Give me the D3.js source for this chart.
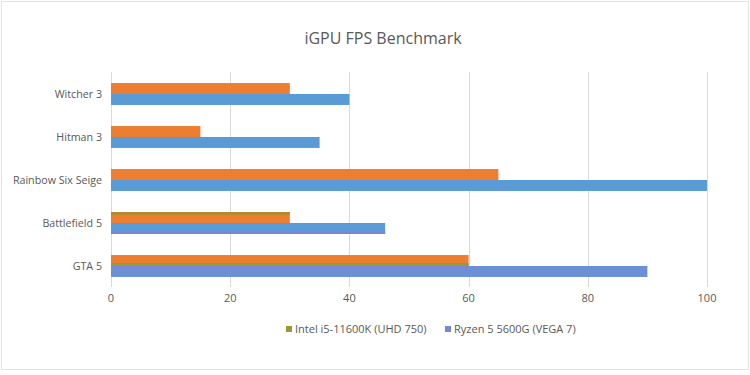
<!DOCTYPE html>
<html>
  <head>
    <script src="https://cdn.jsdelivr.net/npm/d3@7"></script>
    <style>
      body { margin: 0; background: #fff; }
      text { font-family: "Open Sans", "Noto Sans", sans-serif; fill: #595959; }
    </style>
  </head>
  <body>
    <div id="vis"></div>
    <script type="text/javascript">

        const games = ["Witcher 3", "Hitman 3", "Rainbow Six Seige", "Battlefield 5", "GTA 5"];
        const intelFps = [30, 15, 65, 30, 60];
        const ryzenFps = [40, 35, 100, 46, 90];
        const xTicks = [0, 20, 40, 60, 80, 100];
        const seriesNames = ["Intel i5-11600K (UHD 750)", "Ryzen 5 5600G (VEGA 7)"];
        const legendColors = ["#9c9a2e", "#7a86d6"];
        const barColors = ["#ed7d31", "#5b9bd5"];

        const width = 750, height = 375;

        const svg = d3.select("#vis")
            .append("svg")
            .attr("width", width)
            .attr("height", height);

        // chart frame
        svg.append("rect")
            .attr("x", 1.5).attr("y", 1.5)
            .attr("width", width - 3).attr("height", height - 7)
            .attr("fill", "#fff")
            .attr("stroke", "#e3e3e3");

        const x = d3.scaleLinear().domain([0, 100]).range([111, 707]);
        const y = d3.scaleBand()
            .domain(games)
            .range([72.5, 287.5])
            .paddingInner(0.49)
            .paddingOuter(0.245);
        const half = y.bandwidth() / 2;

        // gridlines
        svg.append("g")
            .selectAll("line")
            .data(xTicks)
            .enter()
            .append("line")
            .attr("x1", d => Math.round(x(d)) + 0.5)
            .attr("x2", d => Math.round(x(d)) + 0.5)
            .attr("y1", 72)
            .attr("y2", 287)
            .attr("stroke", "#d9d9d9");

        // tick labels
        svg.append("g")
            .selectAll("text")
            .data(xTicks)
            .enter()
            .append("text")
            .attr("x", d => x(d))
            .attr("y", 302)
            .attr("text-anchor", "middle")
            .style("font-size", "11px")
            .text(d => d);

        // category labels
        svg.append("g")
            .selectAll("text")
            .data(games)
            .enter()
            .append("text")
            .attr("x", 102)
            .attr("y", d => y(d) + half + 4)
            .attr("text-anchor", "end")
            .style("font-size", "10.7px")
            .text(d => d);

        const rows = games.map((g, i) => ({game: g, intel: intelFps[i], ryzen: ryzenFps[i]}));

        // bars
        svg.append("g")
            .selectAll("rect")
            .data(rows)
            .enter()
            .append("rect")
            .attr("x", x(0))
            .attr("y", d => y(d.game))
            .attr("width", d => x(d.intel) - x(0))
            .attr("height", half)
            .attr("fill", barColors[0]);

        svg.append("g")
            .selectAll("rect")
            .data(rows)
            .enter()
            .append("rect")
            .attr("x", x(0))
            .attr("y", d => y(d.game) + half)
            .attr("width", d => x(d.ryzen) - x(0))
            .attr("height", half)
            .attr("fill", (d, i) => i === 4 ? "#6a90d6" : barColors[1]);

        // thin legend-coloured strips that show on the lower two rows
        const strips = [
            {game: "Battlefield 5", v: intelFps[3], dy: 0, c: "#b88a30"},
            {game: "Battlefield 5", v: ryzenFps[3], dy: 2 * half - 3, c: legendColors[1]},
            {game: "GTA 5", v: intelFps[4], dy: half - 3, c: "#8f9f3a"},
            {game: "GTA 5", v: intelFps[4], dy: half, c: legendColors[1]}
        ];
        svg.append("g")
            .selectAll("rect")
            .data(strips)
            .enter()
            .append("rect")
            .attr("x", x(0))
            .attr("y", d => y(d.game) + d.dy)
            .attr("width", d => x(d.v) - x(0))
            .attr("height", 3)
            .attr("fill", d => d.c);

        // title
        svg.append("text")
            .attr("x", 383)
            .attr("y", 44)
            .attr("text-anchor", "middle")
            .style("font-size", "16px")
            .text("iGPU FPS Benchmark");

        // legend
        const legendX = [286, 445];
        const legend = svg.append("g")
            .selectAll("g")
            .data(seriesNames)
            .enter()
            .append("g")
            .attr("transform", (d, i) => `translate(${legendX[i]},330)`);
        legend.append("rect")
            .attr("x", 0).attr("y", -4)
            .attr("width", 6).attr("height", 6)
            .attr("fill", (d, i) => legendColors[i]);
        legend.append("text")
            .attr("x", 9)
            .attr("y", 3)
            .style("font-size", "11px")
            .text(d => d);

    </script>
  </body>
</html>
